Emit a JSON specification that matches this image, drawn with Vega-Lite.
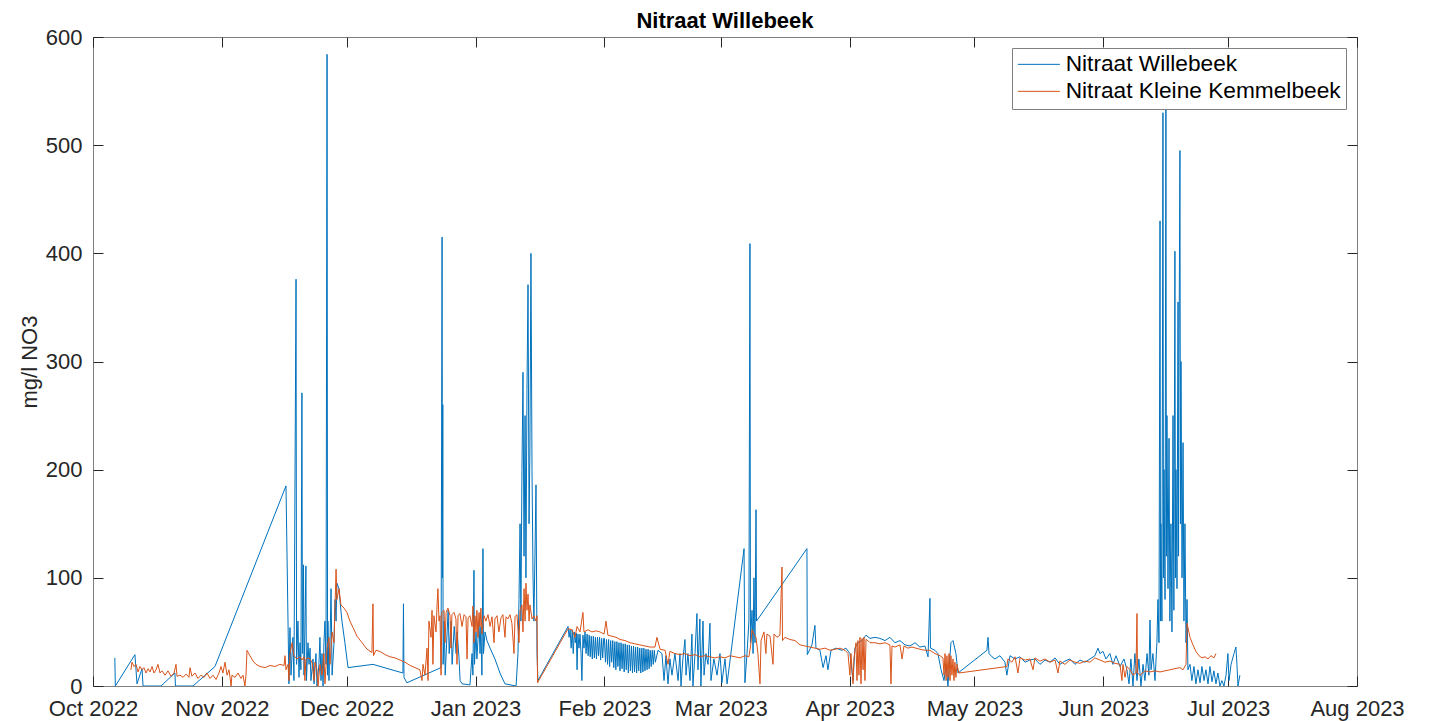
{
"$schema": "https://vega.github.io/schema/vega-lite/v6.json",
"width": 1264, "height": 649,
"autosize": "none",
"padding": {"left": 93, "top": 37, "right": 80, "bottom": 35},
"background": "white",
"title": {"text": "Nitraat Willebeek", "fontSize": 22, "font": "Liberation Sans", "fontWeight": "bold", "color": "#000000", "offset": -7, "anchor": "middle"},
"config": {"view": {"stroke": "#808080", "strokeWidth": 1}, "font": "Liberation Sans"},
"resolve": {"axis": {"x": "independent", "y": "independent"}},
"datasets": {
"W": [
{"t":"2022-10-06T06:00","v":26},{"t":"2022-10-06T09:00","v":0},{"t":"2022-10-11T02:00","v":29},{"t":"2022-10-11T14:00","v":2},{"t":"2022-10-12T19:00","v":16},{"t":"2022-10-13T01:00","v":0},{"t":"2022-10-17T08:00","v":0},{"t":"2022-10-20T17:00","v":12},{"t":"2022-10-20T20:00","v":0},{"t":"2022-10-25T01:00","v":0},{"t":"2022-10-30T08:00","v":18},
{"t":"2022-11-16T10:00","v":185},{"t":"2022-11-17T03:00","v":2},{"t":"2022-11-17T09:00","v":54},{"t":"2022-11-17T15:00","v":10},{"t":"2022-11-18T02:00","v":45},{"t":"2022-11-18T08:00","v":5},{"t":"2022-11-18T20:00","v":376},{"t":"2022-11-18T23:00","v":20},{"t":"2022-11-19T07:00","v":60},{"t":"2022-11-19T13:00","v":8},{"t":"2022-11-19T19:00","v":40},{"t":"2022-11-20T00:00","v":15},{"t":"2022-11-20T06:00","v":271},{"t":"2022-11-20T09:00","v":30},{"t":"2022-11-20T15:00","v":112},{"t":"2022-11-20T18:00","v":10},{"t":"2022-11-20T23:00","v":50},{"t":"2022-11-21T05:00","v":111},{"t":"2022-11-21T08:00","v":5},{"t":"2022-11-21T17:00","v":40},{"t":"2022-11-21T23:00","v":20},{"t":"2022-11-22T05:00","v":35},{"t":"2022-11-22T10:00","v":5},{"t":"2022-11-22T22:00","v":25},{"t":"2022-11-23T04:00","v":2},{"t":"2022-11-23T15:00","v":30},{"t":"2022-11-23T21:00","v":0},{"t":"2022-11-24T08:00","v":20},{"t":"2022-11-24T14:00","v":45},{"t":"2022-11-24T20:00","v":5},{"t":"2022-11-25T02:00","v":30},{"t":"2022-11-25T08:00","v":0},{"t":"2022-11-25T13:00","v":40},{"t":"2022-11-25T19:00","v":60},{"t":"2022-11-26T01:00","v":20},{"t":"2022-11-26T07:00","v":584},{"t":"2022-11-26T10:00","v":10},{"t":"2022-11-26T12:00","v":60},{"t":"2022-11-26T18:00","v":5},{"t":"2022-11-27T00:00","v":40},{"t":"2022-11-27T06:00","v":90},{"t":"2022-11-27T12:00","v":10},{"t":"2022-11-27T23:00","v":40},{"t":"2022-11-28T05:00","v":80},{"t":"2022-11-28T11:00","v":60},{"t":"2022-11-28T16:00","v":95},{"t":"2022-11-29T04:00","v":90},{"t":"2022-11-29T10:00","v":78},{"t":"2022-11-29T21:00","v":60},{"t":"2022-11-30T14:00","v":40},
{"t":"2022-12-01T08:00","v":17},{"t":"2022-12-07T08:00","v":20},{"t":"2022-12-14T13:00","v":12},{"t":"2022-12-14T16:00","v":76},{"t":"2022-12-14T19:00","v":8},{"t":"2022-12-15T12:00","v":3},{"t":"2022-12-23T17:00","v":17},{"t":"2022-12-23T23:00","v":415},{"t":"2022-12-24T01:00","v":100},{"t":"2022-12-24T03:00","v":260},{"t":"2022-12-24T05:00","v":20},{"t":"2022-12-24T11:00","v":60},{"t":"2022-12-24T17:00","v":10},{"t":"2022-12-25T04:00","v":50},{"t":"2022-12-25T10:00","v":70},{"t":"2022-12-25T16:00","v":30},{"t":"2022-12-26T03:00","v":60},{"t":"2022-12-26T09:00","v":20},{"t":"2022-12-26T21:00","v":55},{"t":"2022-12-27T08:00","v":30},{"t":"2022-12-27T14:00","v":50},{"t":"2022-12-28T01:00","v":25},{"t":"2022-12-28T07:00","v":5},{"t":"2022-12-28T19:00","v":2},{"t":"2022-12-30T16:00","v":1},{"t":"2022-12-31T04:00","v":30},{"t":"2022-12-31T09:00","v":10},{"t":"2022-12-31T15:00","v":107},{"t":"2022-12-31T18:00","v":20},
{"t":"2023-01-01T03:00","v":50},{"t":"2023-01-01T08:00","v":25},{"t":"2023-01-01T20:00","v":60},{"t":"2023-01-02T02:00","v":30},{"t":"2023-01-02T07:00","v":55},{"t":"2023-01-02T13:00","v":10},{"t":"2023-01-02T19:00","v":127},{"t":"2023-01-02T22:00","v":30},{"t":"2023-01-03T07:00","v":50},{"t":"2023-01-03T18:00","v":42},{"t":"2023-01-04T12:00","v":35},{"t":"2023-01-05T16:00","v":25},{"t":"2023-01-06T21:00","v":12},{"t":"2023-01-08T02:00","v":2},{"t":"2023-01-10T18:00","v":0},{"t":"2023-01-11T05:00","v":30},{"t":"2023-01-11T11:00","v":80},{"t":"2023-01-11T17:00","v":150},{"t":"2023-01-11T22:00","v":60},{"t":"2023-01-12T04:00","v":200},{"t":"2023-01-12T10:00","v":290},{"t":"2023-01-12T16:00","v":120},{"t":"2023-01-12T22:00","v":250},{"t":"2023-01-13T03:00","v":100},{"t":"2023-01-13T09:00","v":274},{"t":"2023-01-13T15:00","v":371},{"t":"2023-01-13T21:00","v":150},{"t":"2023-01-14T02:00","v":220},{"t":"2023-01-14T08:00","v":400},{"t":"2023-01-14T14:00","v":200},{"t":"2023-01-14T20:00","v":100},{"t":"2023-01-15T01:00","v":60},{"t":"2023-01-15T07:00","v":120},{"t":"2023-01-15T13:00","v":186},{"t":"2023-01-15T19:00","v":30},{"t":"2023-01-16T00:00","v":5},
{"t":"2023-01-23T06:00","v":55},{"t":"2023-01-23T12:00","v":45},{"t":"2023-01-23T18:00","v":52},{"t":"2023-01-24T00:00","v":35},{"t":"2023-01-24T06:00","v":52},{"t":"2023-01-24T12:00","v":30},{"t":"2023-01-24T18:00","v":50},{"t":"2023-01-25T00:00","v":40},{"t":"2023-01-25T06:00","v":49},{"t":"2023-01-25T10:00","v":15},{"t":"2023-01-25T15:00","v":48},{"t":"2023-01-25T21:00","v":35},{"t":"2023-01-26T03:00","v":48},{"t":"2023-01-26T09:00","v":30},{"t":"2023-01-26T14:00","v":5},{"t":"2023-01-26T20:00","v":47},{"t":"2023-01-27T02:00","v":35},{"t":"2023-01-27T08:00","v":50},{"t":"2023-01-27T14:00","v":30},{"t":"2023-01-27T20:00","v":48},{"t":"2023-01-28T02:00","v":28},{"t":"2023-01-28T08:00","v":47},{"t":"2023-01-28T14:00","v":27},{"t":"2023-01-28T20:00","v":46},{"t":"2023-01-29T02:00","v":25},{"t":"2023-01-29T08:00","v":46},{"t":"2023-01-29T14:00","v":26},{"t":"2023-01-29T20:00","v":45},{"t":"2023-01-30T02:00","v":25},{"t":"2023-01-30T08:00","v":45},{"t":"2023-01-30T14:00","v":28},{"t":"2023-01-30T20:00","v":45},{"t":"2023-01-31T02:00","v":24},{"t":"2023-01-31T08:00","v":44},{"t":"2023-01-31T14:00","v":26},{"t":"2023-01-31T20:00","v":44},
{"t":"2023-02-01T00:00","v":44},{"t":"2023-02-01T06:00","v":22},{"t":"2023-02-01T12:00","v":43},{"t":"2023-02-01T18:00","v":20},{"t":"2023-02-02T00:00","v":43},{"t":"2023-02-02T06:00","v":18},{"t":"2023-02-02T12:00","v":42},{"t":"2023-02-02T18:00","v":22},{"t":"2023-02-03T00:00","v":42},{"t":"2023-02-03T06:00","v":17},{"t":"2023-02-03T12:00","v":41},{"t":"2023-02-03T18:00","v":15},{"t":"2023-02-04T00:00","v":41},{"t":"2023-02-04T06:00","v":18},{"t":"2023-02-04T12:00","v":40},{"t":"2023-02-04T18:00","v":14},{"t":"2023-02-05T00:00","v":40},{"t":"2023-02-05T06:00","v":16},{"t":"2023-02-05T12:00","v":39},{"t":"2023-02-05T18:00","v":13},{"t":"2023-02-06T00:00","v":39},{"t":"2023-02-06T06:00","v":15},{"t":"2023-02-06T12:00","v":38},{"t":"2023-02-06T18:00","v":12},{"t":"2023-02-07T00:00","v":38},{"t":"2023-02-07T06:00","v":14},{"t":"2023-02-07T12:00","v":37},{"t":"2023-02-07T18:00","v":12},{"t":"2023-02-08T00:00","v":37},{"t":"2023-02-08T06:00","v":13},{"t":"2023-02-08T12:00","v":36},{"t":"2023-02-08T18:00","v":12},{"t":"2023-02-09T00:00","v":36},{"t":"2023-02-09T06:00","v":14},{"t":"2023-02-09T12:00","v":35},{"t":"2023-02-09T18:00","v":12},{"t":"2023-02-10T00:00","v":35},{"t":"2023-02-10T06:00","v":13},{"t":"2023-02-10T12:00","v":35},{"t":"2023-02-10T18:00","v":14},{"t":"2023-02-11T00:00","v":34},{"t":"2023-02-11T06:00","v":15},{"t":"2023-02-11T12:00","v":34},{"t":"2023-02-11T18:00","v":16},{"t":"2023-02-12T00:00","v":33},{"t":"2023-02-12T06:00","v":18},{"t":"2023-02-12T12:00","v":33},{"t":"2023-02-12T18:00","v":20},{"t":"2023-02-13T00:00","v":33},{"t":"2023-02-13T06:00","v":22},{"t":"2023-02-13T21:00","v":33},{"t":"2023-02-14T20:00","v":30},{"t":"2023-02-15T08:00","v":5},{"t":"2023-02-15T19:00","v":28},{"t":"2023-02-16T07:00","v":2},{"t":"2023-02-16T18:00","v":25},{"t":"2023-02-17T06:00","v":10},{"t":"2023-02-17T23:00","v":30},{"t":"2023-02-18T17:00","v":5},{"t":"2023-02-19T04:00","v":30},{"t":"2023-02-19T10:00","v":0},{"t":"2023-02-19T21:00","v":25},{"t":"2023-02-20T09:00","v":43},{"t":"2023-02-20T15:00","v":10},{"t":"2023-02-21T02:00","v":30},{"t":"2023-02-21T14:00","v":5},{"t":"2023-02-22T01:00","v":48},{"t":"2023-02-22T07:00","v":0},{"t":"2023-02-22T19:00","v":30},{"t":"2023-02-23T06:00","v":67},{"t":"2023-02-23T12:00","v":15},{"t":"2023-02-23T23:00","v":62},{"t":"2023-02-24T05:00","v":0},{"t":"2023-02-24T17:00","v":60},{"t":"2023-02-24T23:00","v":10},{"t":"2023-02-25T10:00","v":30},{"t":"2023-02-25T22:00","v":20},{"t":"2023-02-26T09:00","v":58},{"t":"2023-02-26T15:00","v":5},{"t":"2023-02-27T08:00","v":25},{"t":"2023-02-28T02:00","v":10},{"t":"2023-02-28T19:00","v":30},
{"t":"2023-03-01T06:00","v":3},{"t":"2023-03-02T00:00","v":25},{"t":"2023-03-02T12:00","v":2},{"t":"2023-03-06T14:00","v":127},{"t":"2023-03-06T19:00","v":3},{"t":"2023-03-07T07:00","v":30},{"t":"2023-03-07T18:00","v":60},{"t":"2023-03-08T00:00","v":409},{"t":"2023-03-08T03:00","v":40},{"t":"2023-03-08T12:00","v":70},{"t":"2023-03-08T18:00","v":30},{"t":"2023-03-08T23:00","v":100},{"t":"2023-03-09T05:00","v":40},{"t":"2023-03-09T11:00","v":163},{"t":"2023-03-09T14:00","v":60},{"t":"2023-03-21T17:00","v":127},{"t":"2023-03-21T19:00","v":29},{"t":"2023-03-22T22:00","v":38},{"t":"2023-03-23T15:00","v":56},{"t":"2023-03-23T21:00","v":35},{"t":"2023-03-24T20:00","v":33},{"t":"2023-03-25T14:00","v":17},{"t":"2023-03-26T07:00","v":28},{"t":"2023-03-26T18:00","v":15},{"t":"2023-03-27T12:00","v":33},{"t":"2023-03-28T17:00","v":35},{"t":"2023-03-30T03:00","v":33},{"t":"2023-03-31T02:00","v":35},
{"t":"2023-04-01T01:00","v":30},{"t":"2023-04-01T19:00","v":5},{"t":"2023-04-02T06:00","v":35},{"t":"2023-04-02T23:00","v":40},{"t":"2023-04-03T23:00","v":42},{"t":"2023-04-04T22:00","v":47},{"t":"2023-04-05T21:00","v":44},{"t":"2023-04-07T02:00","v":45},{"t":"2023-04-08T06:00","v":44},{"t":"2023-04-09T12:00","v":42},{"t":"2023-04-10T16:00","v":45},{"t":"2023-04-11T21:00","v":40},{"t":"2023-04-13T02:00","v":42},{"t":"2023-04-14T07:00","v":38},{"t":"2023-04-15T12:00","v":37},{"t":"2023-04-16T17:00","v":40},{"t":"2023-04-17T21:00","v":36},{"t":"2023-04-19T02:00","v":37},{"t":"2023-04-19T20:00","v":27},{"t":"2023-04-20T07:00","v":81},{"t":"2023-04-20T10:00","v":35},{"t":"2023-04-21T12:00","v":33},{"t":"2023-04-22T05:00","v":30},{"t":"2023-04-22T23:00","v":15},{"t":"2023-04-23T16:00","v":5},{"t":"2023-04-24T04:00","v":20},{"t":"2023-04-24T15:00","v":0},{"t":"2023-04-25T08:00","v":40},{"t":"2023-04-25T20:00","v":42},{"t":"2023-04-26T13:00","v":30},{"t":"2023-04-27T01:00","v":12},
{"t":"2023-05-04T00:00","v":33},{"t":"2023-05-04T06:00","v":45},{"t":"2023-05-04T12:00","v":30},{"t":"2023-05-05T05:00","v":27},{"t":"2023-05-05T22:00","v":25},{"t":"2023-05-07T03:00","v":28},{"t":"2023-05-08T08:00","v":22},{"t":"2023-05-08T19:00","v":10},{"t":"2023-05-09T13:00","v":28},{"t":"2023-05-10T18:00","v":25},{"t":"2023-05-11T23:00","v":27},{"t":"2023-05-13T04:00","v":22},{"t":"2023-05-14T08:00","v":24},{"t":"2023-05-15T13:00","v":25},{"t":"2023-05-16T18:00","v":20},{"t":"2023-05-17T23:00","v":24},{"t":"2023-05-19T04:00","v":22},{"t":"2023-05-20T09:00","v":26},{"t":"2023-05-21T13:00","v":20},{"t":"2023-05-22T18:00","v":23},{"t":"2023-05-23T23:00","v":25},{"t":"2023-05-25T04:00","v":20},{"t":"2023-05-26T09:00","v":24},{"t":"2023-05-27T14:00","v":22},{"t":"2023-05-28T19:00","v":25},{"t":"2023-05-29T23:00","v":28},{"t":"2023-05-30T17:00","v":35},{"t":"2023-05-31T04:00","v":30},{"t":"2023-05-31T22:00","v":32},
{"t":"2023-06-01T15:00","v":25},{"t":"2023-06-02T14:00","v":30},{"t":"2023-06-03T07:00","v":20},{"t":"2023-06-04T01:00","v":28},{"t":"2023-06-05T00:00","v":18},{"t":"2023-06-05T23:00","v":25},{"t":"2023-06-06T16:00","v":15},{"t":"2023-06-07T04:00","v":2},{"t":"2023-06-07T15:00","v":25},{"t":"2023-06-08T03:00","v":0},{"t":"2023-06-08T14:00","v":30},{"t":"2023-06-09T02:00","v":5},{"t":"2023-06-09T13:00","v":25},{"t":"2023-06-10T01:00","v":0},{"t":"2023-06-10T13:00","v":20},{"t":"2023-06-11T00:00","v":5},{"t":"2023-06-11T12:00","v":30},{"t":"2023-06-11T23:00","v":10},{"t":"2023-06-12T05:00","v":61},{"t":"2023-06-12T11:00","v":15},{"t":"2023-06-12T22:00","v":30},{"t":"2023-06-13T10:00","v":5},{"t":"2023-06-13T21:00","v":40},{"t":"2023-06-14T03:00","v":80},{"t":"2023-06-14T09:00","v":40},{"t":"2023-06-14T15:00","v":430},{"t":"2023-06-14T18:00","v":60},{"t":"2023-06-14T20:00","v":150},{"t":"2023-06-15T02:00","v":60},{"t":"2023-06-15T08:00","v":530},{"t":"2023-06-15T11:00","v":100},{"t":"2023-06-15T14:00","v":200},{"t":"2023-06-15T20:00","v":80},{"t":"2023-06-16T01:00","v":535},{"t":"2023-06-16T04:00","v":120},{"t":"2023-06-16T07:00","v":250},{"t":"2023-06-16T13:00","v":90},{"t":"2023-06-16T19:00","v":229},{"t":"2023-06-17T00:00","v":60},{"t":"2023-06-17T06:00","v":150},{"t":"2023-06-17T12:00","v":50},{"t":"2023-06-17T18:00","v":250},{"t":"2023-06-17T23:00","v":70},{"t":"2023-06-18T05:00","v":402},{"t":"2023-06-18T08:00","v":100},{"t":"2023-06-18T11:00","v":200},{"t":"2023-06-18T17:00","v":90},{"t":"2023-06-18T23:00","v":355},{"t":"2023-06-19T02:00","v":120},{"t":"2023-06-19T04:00","v":280},{"t":"2023-06-19T10:00","v":495},{"t":"2023-06-19T13:00","v":150},{"t":"2023-06-19T16:00","v":300},{"t":"2023-06-19T22:00","v":100},{"t":"2023-06-20T04:00","v":225},{"t":"2023-06-20T09:00","v":60},{"t":"2023-06-20T15:00","v":150},{"t":"2023-06-20T21:00","v":40},{"t":"2023-06-21T03:00","v":80},{"t":"2023-06-21T08:00","v":15},{"t":"2023-06-21T20:00","v":20},{"t":"2023-06-22T07:00","v":5},{"t":"2023-06-22T19:00","v":18},{"t":"2023-06-23T06:00","v":2},{"t":"2023-06-23T18:00","v":15},{"t":"2023-06-24T06:00","v":3},{"t":"2023-06-24T17:00","v":18},{"t":"2023-06-25T05:00","v":5},{"t":"2023-06-25T16:00","v":15},{"t":"2023-06-26T04:00","v":2},{"t":"2023-06-26T15:00","v":18},{"t":"2023-06-27T03:00","v":4},{"t":"2023-06-27T14:00","v":14},{"t":"2023-06-28T02:00","v":2},{"t":"2023-06-28T13:00","v":12},{"t":"2023-06-29T01:00","v":0},{"t":"2023-06-29T12:00","v":5},{"t":"2023-06-30T00:00","v":0},{"t":"2023-06-30T12:00","v":10},{"t":"2023-06-30T23:00","v":30},
{"t":"2023-07-01T05:00","v":5},{"t":"2023-07-01T17:00","v":20},{"t":"2023-07-02T10:00","v":30},{"t":"2023-07-02T21:00","v":36},{"t":"2023-07-03T03:00","v":20},{"t":"2023-07-03T09:00","v":0},{"t":"2023-07-03T20:00","v":10}
],
"K": [
{"t":"2022-10-10T03:00","v":15},{"t":"2022-10-10T09:00","v":22},{"t":"2022-10-10T21:00","v":18},{"t":"2022-10-11T08:00","v":20},{"t":"2022-10-11T20:00","v":13},{"t":"2022-10-12T07:00","v":18},{"t":"2022-10-12T19:00","v":15},{"t":"2022-10-13T06:00","v":17},{"t":"2022-10-13T18:00","v":12},{"t":"2022-10-14T06:00","v":16},{"t":"2022-10-14T17:00","v":13},{"t":"2022-10-15T05:00","v":18},{"t":"2022-10-15T16:00","v":12},{"t":"2022-10-16T04:00","v":15},{"t":"2022-10-16T15:00","v":20},{"t":"2022-10-17T03:00","v":12},{"t":"2022-10-17T14:00","v":14},{"t":"2022-10-18T08:00","v":10},{"t":"2022-10-19T01:00","v":14},{"t":"2022-10-19T18:00","v":9},{"t":"2022-10-20T12:00","v":12},{"t":"2022-10-20T23:00","v":20},{"t":"2022-10-21T05:00","v":9},{"t":"2022-10-21T22:00","v":10},{"t":"2022-10-22T16:00","v":8},{"t":"2022-10-23T09:00","v":11},{"t":"2022-10-24T02:00","v":8},{"t":"2022-10-24T08:00","v":17},{"t":"2022-10-24T19:00","v":9},{"t":"2022-10-25T13:00","v":12},{"t":"2022-10-26T06:00","v":7},{"t":"2022-10-26T23:00","v":10},{"t":"2022-10-27T17:00","v":8},{"t":"2022-10-28T10:00","v":12},{"t":"2022-10-29T03:00","v":7},{"t":"2022-10-29T21:00","v":10},{"t":"2022-10-30T14:00","v":6},{"t":"2022-10-31T07:00","v":12},{"t":"2022-10-31T19:00","v":18},
{"t":"2022-11-01T06:00","v":12},{"t":"2022-11-01T18:00","v":22},{"t":"2022-11-02T06:00","v":10},{"t":"2022-11-02T17:00","v":15},{"t":"2022-11-02T23:00","v":8},{"t":"2022-11-03T05:00","v":0},{"t":"2022-11-03T10:00","v":10},{"t":"2022-11-04T04:00","v":8},{"t":"2022-11-04T21:00","v":12},{"t":"2022-11-05T14:00","v":7},{"t":"2022-11-06T02:00","v":10},{"t":"2022-11-06T13:00","v":0},{"t":"2022-11-06T19:00","v":10},{"t":"2022-11-07T01:00","v":33},{"t":"2022-11-07T18:00","v":28},{"t":"2022-11-08T12:00","v":23},{"t":"2022-11-09T05:00","v":20},{"t":"2022-11-10T04:00","v":18},{"t":"2022-11-11T09:00","v":17},{"t":"2022-11-12T14:00","v":19},{"t":"2022-11-13T19:00","v":18},{"t":"2022-11-14T23:00","v":20},{"t":"2022-11-15T23:00","v":19},{"t":"2022-11-16T04:00","v":28},{"t":"2022-11-16T10:00","v":15},{"t":"2022-11-16T22:00","v":20},{"t":"2022-11-17T03:00","v":5},{"t":"2022-11-17T09:00","v":30},{"t":"2022-11-17T21:00","v":40},{"t":"2022-11-18T08:00","v":28},{"t":"2022-11-19T01:00","v":25},{"t":"2022-11-19T19:00","v":27},{"t":"2022-11-20T06:00","v":24},{"t":"2022-11-20T18:00","v":27},{"t":"2022-11-20T23:00","v":5},{"t":"2022-11-21T05:00","v":25},{"t":"2022-11-21T23:00","v":26},{"t":"2022-11-22T16:00","v":22},{"t":"2022-11-23T04:00","v":5},{"t":"2022-11-23T09:00","v":22},{"t":"2022-11-23T21:00","v":15},{"t":"2022-11-24T03:00","v":0},{"t":"2022-11-24T14:00","v":20},{"t":"2022-11-25T02:00","v":10},{"t":"2022-11-25T13:00","v":30},{"t":"2022-11-25T19:00","v":2},{"t":"2022-11-26T07:00","v":35},{"t":"2022-11-26T18:00","v":45},{"t":"2022-11-27T00:00","v":20},{"t":"2022-11-27T12:00","v":50},{"t":"2022-11-27T23:00","v":40},{"t":"2022-11-28T11:00","v":108},{"t":"2022-11-28T16:00","v":80},{"t":"2022-11-29T04:00","v":90},{"t":"2022-11-29T15:00","v":75},{"t":"2022-11-30T09:00","v":72},
{"t":"2022-12-01T02:00","v":68},{"t":"2022-12-01T19:00","v":60},{"t":"2022-12-02T13:00","v":54},{"t":"2022-12-03T12:00","v":46},{"t":"2022-12-04T17:00","v":40},{"t":"2022-12-05T22:00","v":34},{"t":"2022-12-07T02:00","v":31},{"t":"2022-12-07T08:00","v":76},{"t":"2022-12-07T11:00","v":28},{"t":"2022-12-08T01:00","v":33},{"t":"2022-12-09T00:00","v":32},{"t":"2022-12-10T06:00","v":29},{"t":"2022-12-11T10:00","v":27},{"t":"2022-12-12T15:00","v":26},{"t":"2022-12-13T20:00","v":24},{"t":"2022-12-15T01:00","v":22},{"t":"2022-12-16T06:00","v":19},{"t":"2022-12-17T11:00","v":17},{"t":"2022-12-18T15:00","v":15},{"t":"2022-12-19T03:00","v":5},{"t":"2022-12-19T09:00","v":20},{"t":"2022-12-19T20:00","v":10},{"t":"2022-12-20T08:00","v":35},{"t":"2022-12-20T14:00","v":5},{"t":"2022-12-20T19:00","v":60},{"t":"2022-12-21T07:00","v":45},{"t":"2022-12-21T13:00","v":70},{"t":"2022-12-21T18:00","v":20},{"t":"2022-12-22T00:00","v":65},{"t":"2022-12-22T12:00","v":50},{"t":"2022-12-22T18:00","v":75},{"t":"2022-12-22T23:00","v":90},{"t":"2022-12-23T05:00","v":60},{"t":"2022-12-23T11:00","v":65},{"t":"2022-12-23T17:00","v":10},{"t":"2022-12-23T22:00","v":68},{"t":"2022-12-24T10:00","v":70},{"t":"2022-12-24T16:00","v":40},{"t":"2022-12-24T22:00","v":68},{"t":"2022-12-25T09:00","v":72},{"t":"2022-12-25T21:00","v":65},{"t":"2022-12-26T02:00","v":35},{"t":"2022-12-26T08:00","v":66},{"t":"2022-12-26T20:00","v":68},{"t":"2022-12-27T07:00","v":62},{"t":"2022-12-27T13:00","v":20},{"t":"2022-12-27T19:00","v":65},{"t":"2022-12-28T06:00","v":67},{"t":"2022-12-28T18:00","v":55},{"t":"2022-12-29T06:00","v":66},{"t":"2022-12-29T17:00","v":64},{"t":"2022-12-29T23:00","v":25},{"t":"2022-12-30T05:00","v":63},{"t":"2022-12-30T16:00","v":65},{"t":"2022-12-31T04:00","v":55},{"t":"2022-12-31T09:00","v":74},{"t":"2022-12-31T15:00","v":40},{"t":"2022-12-31T21:00","v":65},
{"t":"2023-01-01T03:00","v":50},{"t":"2023-01-01T08:00","v":70},{"t":"2023-01-01T14:00","v":45},{"t":"2023-01-01T20:00","v":68},{"t":"2023-01-02T02:00","v":55},{"t":"2023-01-02T07:00","v":72},{"t":"2023-01-02T13:00","v":48},{"t":"2023-01-03T01:00","v":65},{"t":"2023-01-03T12:00","v":60},{"t":"2023-01-04T00:00","v":66},{"t":"2023-01-04T12:00","v":55},{"t":"2023-01-04T23:00","v":64},{"t":"2023-01-05T11:00","v":40},{"t":"2023-01-05T16:00","v":62},{"t":"2023-01-06T04:00","v":65},{"t":"2023-01-06T15:00","v":50},{"t":"2023-01-07T03:00","v":63},{"t":"2023-01-07T14:00","v":66},{"t":"2023-01-08T02:00","v":45},{"t":"2023-01-08T08:00","v":64},{"t":"2023-01-08T19:00","v":62},{"t":"2023-01-09T07:00","v":66},{"t":"2023-01-09T18:00","v":58},{"t":"2023-01-10T06:00","v":30},{"t":"2023-01-10T12:00","v":64},{"t":"2023-01-10T23:00","v":66},{"t":"2023-01-11T11:00","v":40},{"t":"2023-01-11T17:00","v":70},{"t":"2023-01-12T04:00","v":75},{"t":"2023-01-12T10:00","v":50},{"t":"2023-01-12T16:00","v":90},{"t":"2023-01-12T22:00","v":60},{"t":"2023-01-13T03:00","v":95},{"t":"2023-01-13T09:00","v":70},{"t":"2023-01-13T15:00","v":85},{"t":"2023-01-13T21:00","v":60},{"t":"2023-01-14T02:00","v":75},{"t":"2023-01-14T14:00","v":62},{"t":"2023-01-15T01:00","v":65},{"t":"2023-01-15T13:00","v":60},{"t":"2023-01-15T19:00","v":65},{"t":"2023-01-15T22:00","v":3},
{"t":"2023-01-23T06:00","v":53},{"t":"2023-01-24T05:00","v":52},{"t":"2023-01-24T22:00","v":45},{"t":"2023-01-25T10:00","v":55},{"t":"2023-01-26T03:00","v":50},{"t":"2023-01-26T20:00","v":68},{"t":"2023-01-27T02:00","v":50},{"t":"2023-01-28T01:00","v":52},{"t":"2023-01-29T00:00","v":50},{"t":"2023-01-29T23:00","v":51},{"t":"2023-01-30T22:00","v":50},{"t":"2023-01-31T22:00","v":48},
{"t":"2023-02-01T09:00","v":60},{"t":"2023-02-01T20:00","v":47},{"t":"2023-02-02T20:00","v":46},{"t":"2023-02-03T19:00","v":45},{"t":"2023-02-04T18:00","v":43},{"t":"2023-02-05T23:00","v":42},{"t":"2023-02-07T04:00","v":40},{"t":"2023-02-08T08:00","v":39},{"t":"2023-02-09T13:00","v":38},{"t":"2023-02-10T18:00","v":37},{"t":"2023-02-11T23:00","v":36},{"t":"2023-02-13T04:00","v":36},{"t":"2023-02-13T15:00","v":45},{"t":"2023-02-14T09:00","v":34},{"t":"2023-02-15T14:00","v":33},{"t":"2023-02-16T07:00","v":20},{"t":"2023-02-16T18:00","v":32},{"t":"2023-02-17T23:00","v":30},{"t":"2023-02-19T04:00","v":29},{"t":"2023-02-20T09:00","v":30},{"t":"2023-02-21T14:00","v":28},{"t":"2023-02-22T19:00","v":29},{"t":"2023-02-23T23:00","v":27},{"t":"2023-02-25T04:00","v":28},{"t":"2023-02-26T09:00","v":27},{"t":"2023-02-27T14:00","v":26},{"t":"2023-02-28T19:00","v":27},
{"t":"2023-03-02T00:00","v":26},{"t":"2023-03-03T05:00","v":28},{"t":"2023-03-04T10:00","v":27},{"t":"2023-03-05T14:00","v":26},{"t":"2023-03-06T19:00","v":28},{"t":"2023-03-07T18:00","v":27},{"t":"2023-03-08T06:00","v":40},{"t":"2023-03-08T12:00","v":52},{"t":"2023-03-08T23:00","v":48},{"t":"2023-03-09T11:00","v":45},{"t":"2023-03-09T22:00","v":30},{"t":"2023-03-10T10:00","v":2},{"t":"2023-03-10T16:00","v":42},{"t":"2023-03-11T09:00","v":50},{"t":"2023-03-11T20:00","v":30},{"t":"2023-03-12T02:00","v":48},{"t":"2023-03-12T20:00","v":46},{"t":"2023-03-13T13:00","v":20},{"t":"2023-03-13T19:00","v":48},{"t":"2023-03-14T12:00","v":45},{"t":"2023-03-15T05:00","v":47},{"t":"2023-03-15T17:00","v":110},{"t":"2023-03-15T20:00","v":42},{"t":"2023-03-16T10:00","v":45},{"t":"2023-03-17T15:00","v":43},{"t":"2023-03-18T20:00","v":42},{"t":"2023-03-20T01:00","v":38},{"t":"2023-03-21T06:00","v":37},{"t":"2023-03-22T11:00","v":36},{"t":"2023-03-23T15:00","v":35},{"t":"2023-03-24T20:00","v":34},{"t":"2023-03-26T01:00","v":35},{"t":"2023-03-27T06:00","v":33},{"t":"2023-03-28T11:00","v":34},{"t":"2023-03-29T16:00","v":35},{"t":"2023-03-30T21:00","v":33},{"t":"2023-03-31T14:00","v":30},
{"t":"2023-04-01T01:00","v":10},{"t":"2023-04-01T07:00","v":30},{"t":"2023-04-01T19:00","v":2},{"t":"2023-04-02T00:00","v":25},{"t":"2023-04-02T12:00","v":40},{"t":"2023-04-02T18:00","v":5},{"t":"2023-04-02T23:00","v":42},{"t":"2023-04-03T05:00","v":10},{"t":"2023-04-03T11:00","v":45},{"t":"2023-04-03T17:00","v":2},{"t":"2023-04-03T23:00","v":44},{"t":"2023-04-04T05:00","v":15},{"t":"2023-04-04T10:00","v":45},{"t":"2023-04-04T16:00","v":5},{"t":"2023-04-04T22:00","v":43},{"t":"2023-04-05T09:00","v":42},{"t":"2023-04-05T21:00","v":40},{"t":"2023-04-07T02:00","v":40},{"t":"2023-04-08T06:00","v":39},{"t":"2023-04-09T12:00","v":40},{"t":"2023-04-10T16:00","v":38},{"t":"2023-04-10T22:00","v":2},{"t":"2023-04-11T04:00","v":37},{"t":"2023-04-11T21:00","v":36},{"t":"2023-04-13T02:00","v":38},{"t":"2023-04-13T14:00","v":25},{"t":"2023-04-14T01:00","v":37},{"t":"2023-04-15T00:00","v":35},{"t":"2023-04-15T23:00","v":36},{"t":"2023-04-16T22:00","v":35},{"t":"2023-04-17T21:00","v":34},{"t":"2023-04-19T02:00","v":33},{"t":"2023-04-20T07:00","v":33},{"t":"2023-04-21T12:00","v":30},{"t":"2023-04-22T17:00","v":28},{"t":"2023-04-23T10:00","v":26},{"t":"2023-04-23T16:00","v":10},{"t":"2023-04-23T22:00","v":30},{"t":"2023-04-24T04:00","v":5},{"t":"2023-04-24T09:00","v":28},{"t":"2023-04-24T15:00","v":8},{"t":"2023-04-24T21:00","v":30},{"t":"2023-04-25T03:00","v":5},{"t":"2023-04-25T08:00","v":28},{"t":"2023-04-25T14:00","v":10},{"t":"2023-04-25T20:00","v":25},{"t":"2023-04-26T02:00","v":5},{"t":"2023-04-26T07:00","v":22},{"t":"2023-04-26T13:00","v":8},{"t":"2023-04-26T19:00","v":20},{"t":"2023-04-27T06:00","v":12},
{"t":"2023-05-08T19:00","v":18},{"t":"2023-05-09T01:00","v":25},{"t":"2023-05-10T00:00","v":22},{"t":"2023-05-10T18:00","v":27},{"t":"2023-05-11T11:00","v":12},{"t":"2023-05-11T23:00","v":26},{"t":"2023-05-13T04:00","v":24},{"t":"2023-05-14T08:00","v":25},{"t":"2023-05-15T02:00","v":15},{"t":"2023-05-15T13:00","v":26},{"t":"2023-05-16T18:00","v":23},{"t":"2023-05-17T23:00","v":25},{"t":"2023-05-19T04:00","v":22},{"t":"2023-05-20T09:00","v":24},{"t":"2023-05-21T02:00","v":12},{"t":"2023-05-21T13:00","v":23},{"t":"2023-05-22T18:00","v":20},{"t":"2023-05-23T23:00","v":24},{"t":"2023-05-25T04:00","v":22},{"t":"2023-05-26T09:00","v":21},{"t":"2023-05-27T14:00","v":23},{"t":"2023-05-28T19:00","v":22},{"t":"2023-05-29T23:00","v":26},{"t":"2023-05-31T04:00","v":24},
{"t":"2023-06-01T09:00","v":22},{"t":"2023-06-02T14:00","v":23},{"t":"2023-06-03T19:00","v":21},{"t":"2023-06-05T00:00","v":20},{"t":"2023-06-05T11:00","v":5},{"t":"2023-06-05T17:00","v":20},{"t":"2023-06-06T05:00","v":8},{"t":"2023-06-06T16:00","v":18},{"t":"2023-06-07T10:00","v":15},{"t":"2023-06-08T03:00","v":10},{"t":"2023-06-08T20:00","v":12},{"t":"2023-06-09T02:00","v":67},{"t":"2023-06-09T05:00","v":12},{"t":"2023-06-09T19:00","v":10},{"t":"2023-06-11T00:00","v":14},{"t":"2023-06-12T05:00","v":13},{"t":"2023-06-13T10:00","v":14},{"t":"2023-06-14T15:00","v":13},{"t":"2023-06-15T20:00","v":14},{"t":"2023-06-17T00:00","v":15},{"t":"2023-06-18T05:00","v":16},{"t":"2023-06-19T10:00","v":17},{"t":"2023-06-20T04:00","v":15},{"t":"2023-06-20T21:00","v":20},{"t":"2023-06-21T03:00","v":58},{"t":"2023-06-21T20:00","v":45},{"t":"2023-06-22T13:00","v":38},{"t":"2023-06-23T06:00","v":32},{"t":"2023-06-24T00:00","v":28},{"t":"2023-06-24T17:00","v":26},{"t":"2023-06-25T11:00","v":27},{"t":"2023-06-26T04:00","v":25},{"t":"2023-06-26T21:00","v":28},{"t":"2023-06-27T14:00","v":26},{"t":"2023-06-28T02:00","v":30}
]
},
"layer": [
{
"data": {"name": "W"},
"mark": {"type": "line", "strokeWidth": 1, "clip": true},
"encoding": {
"x": {"field": "t", "type": "temporal", "scale": {"domain": ["2022-10-01T00:00", "2023-08-01T00:00"]},
 "axis": {"orient": "bottom", "format": "%b %Y", "tickCount": {"interval": "month", "step": 1}, "labelFontSize": 22, "labelFont": "Liberation Sans", "labelColor": "#262626", "tickSize": -10, "tickColor": "#262626", "labelPadding": 22, "domain": false, "grid": false, "title": null, "labelOverlap": false, "labelBound": false, "labelFlush": false}},
"y": {"field": "v", "type": "quantitative", "scale": {"domain": [0, 600], "nice": false},
 "axis": {"orient": "left", "values": [0, 100, 200, 300, 400, 500, 600], "labelFontSize": 22, "labelFont": "Liberation Sans", "labelColor": "#262626", "tickSize": -10, "tickColor": "#262626", "labelPadding": 21, "domain": false, "grid": false, "title": "mg/l NO3", "titleFontSize": 22, "titleFont": "Liberation Sans", "titleFontWeight": "normal", "titleColor": "#262626", "titlePadding": 4}},
"color": {"datum": "Nitraat Willebeek", "type": "nominal", "scale": {"domain": ["Nitraat Willebeek", "Nitraat Kleine Kemmelbeek"], "range": ["#0072BD", "#D95319"]},
 "legend": {"orient": "top-right", "offset": 11, "title": null, "symbolType": "M-1,0H3", "symbolSize": 441, "symbolStrokeWidth": 1, "labelFontSize": 22.7, "labelFont": "Liberation Sans", "labelColor": "#000000", "fillColor": "white", "strokeColor": "#808080", "padding": 5, "rowPadding": 3, "labelOffset": 26, "labelLimit": 500}}
}
},
{
"data": {"name": "K"},
"mark": {"type": "line", "strokeWidth": 1, "clip": true},
"encoding": {
"x": {"field": "t", "type": "temporal", "scale": {"domain": ["2022-10-01T00:00", "2023-08-01T00:00"]},
 "axis": {"orient": "top", "tickCount": {"interval": "month", "step": 1}, "labels": false, "tickSize": -10, "tickColor": "#262626", "domain": false, "grid": false, "title": null}},
"y": {"field": "v", "type": "quantitative", "scale": {"domain": [0, 600], "nice": false},
 "axis": {"orient": "right", "values": [0, 100, 200, 300, 400, 500, 600], "labels": false, "tickSize": -10, "tickColor": "#262626", "domain": false, "grid": false, "title": null}},
"color": {"datum": "Nitraat Kleine Kemmelbeek", "type": "nominal", "scale": {"domain": ["Nitraat Willebeek", "Nitraat Kleine Kemmelbeek"], "range": ["#0072BD", "#D95319"]},
 "legend": {"orient": "top-right", "offset": 11, "title": null, "symbolType": "M-1,0H3", "symbolSize": 441, "symbolStrokeWidth": 1, "labelFontSize": 22.7, "labelFont": "Liberation Sans", "labelColor": "#000000", "fillColor": "white", "strokeColor": "#808080", "padding": 5, "rowPadding": 3, "labelOffset": 26, "labelLimit": 500}}
}
}
]
}
